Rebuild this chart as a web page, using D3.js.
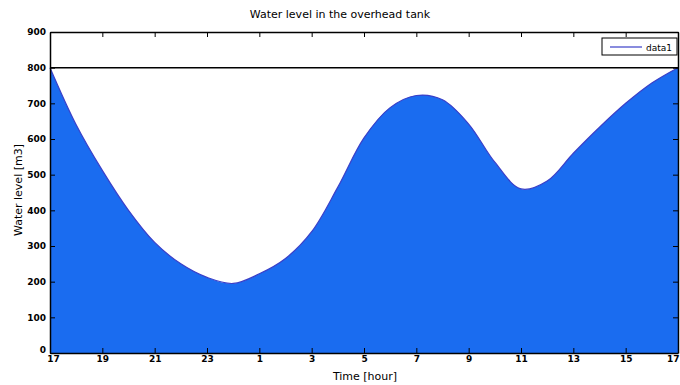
<!DOCTYPE html>
<html>
<head>
<meta charset="utf-8">
<script src="https://cdn.jsdelivr.net/npm/d3@7"></script>
<style>
  body { margin: 0; background: #fff; }
  text { font-family: "DejaVu Sans", sans-serif; fill: #000; }
  .tick text { font-size: 9px; font-weight: bold; }
</style>
</head>
<body>
<div id="chart"></div>
<script>
// data: hours since 17:00, water level in m3
var hours = [0, 1, 2, 3, 4, 5, 6, 7, 8, 9, 10, 11, 12, 13, 14, 15, 16, 17, 18, 19, 20, 21, 22, 23, 24];
var level = [800, 640, 512, 400, 310, 250, 212, 195, 222, 265, 340, 465, 603, 688, 722, 710, 642, 535, 460, 482, 560, 633, 700, 757, 800];
var xTickHours = [0, 2, 4, 6, 8, 10, 12, 14, 16, 18, 20, 22, 24];
var xTickLabels = ["17", "19", "21", "23", "1", "3", "5", "7", "9", "11", "13", "15", "17"];
var yTicks = [0, 100, 200, 300, 400, 500, 600, 700, 800, 900];
var capacity = 800;

var svgWidth = 680;
var svgHeight = 385;
var margin = { top: 32, right: 2, bottom: 32, left: 50 };
var width = svgWidth - margin.left - margin.right;
var height = svgHeight - margin.top - margin.bottom;

var svg = d3.select("#chart")
  .append("svg")
  .attr("width", svgWidth)
  .attr("height", svgHeight);

var chartGroup = svg.append("g")
  .attr("transform", `translate(${margin.left}, ${margin.top})`);

var x = d3.scaleLinear().domain([0, 24]).range([0, width]);
var y = d3.scaleLinear().domain([0, 900]).range([height, 0]);

var data = hours.map((h, i) => ({ h: h, v: level[i] }));

// filled area
var area = d3.area()
  .x(d => x(d.h))
  .y0(y(0))
  .y1(d => y(d.v))
  .curve(d3.curveCatmullRom.alpha(0.5));

chartGroup.append("path")
  .datum(data)
  .attr("d", area)
  .attr("fill", "#1a6cf0");

var line = d3.line()
  .x(d => x(d.h))
  .y(d => y(d.v))
  .curve(d3.curveCatmullRom.alpha(0.5));

chartGroup.append("path")
  .datum(data)
  .attr("d", line)
  .attr("fill", "none")
  .attr("stroke", "#3a3fc8")
  .attr("stroke-width", 1.2);

// capacity line
chartGroup.append("line")
  .attr("x1", 0).attr("x2", width)
  .attr("y1", y(capacity)).attr("y2", y(capacity))
  .attr("stroke", "#000")
  .attr("stroke-width", 1.5);

// axes, ticks pointing inwards like matlab
var bottomAxis = d3.axisBottom(x)
  .tickValues(xTickHours)
  .tickFormat((d, i) => xTickLabels[i])
  .tickSizeInner(-5).tickSizeOuter(0).tickPadding(3);
var topAxis = d3.axisTop(x)
  .tickValues(xTickHours)
  .tickFormat("")
  .tickSizeInner(-5).tickSizeOuter(0);
var leftAxis = d3.axisLeft(y)
  .tickValues(yTicks)
  .tickSizeInner(-5).tickSizeOuter(0).tickPadding(4);
var rightAxis = d3.axisRight(y)
  .tickValues(yTicks)
  .tickFormat("")
  .tickSizeInner(-5).tickSizeOuter(0);

var xAxis = chartGroup.append("g").attr("transform", `translate(0, ${height})`).call(bottomAxis);
chartGroup.append("g").call(topAxis);
var yAxis = chartGroup.append("g").call(leftAxis);
chartGroup.append("g").attr("transform", `translate(${width}, 0)`).call(rightAxis);

chartGroup.selectAll(".domain").attr("stroke", "#000").attr("stroke-width", 1.5);
chartGroup.selectAll(".tick line").attr("stroke", "#000");

// nudge the corner labels so they don't collide / get clipped
yAxis.selectAll(".tick text").filter(d => d === 0).attr("dy", "-0.05em");
xAxis.selectAll(".tick text").filter(d => d === 0).attr("dx", "3px");
xAxis.selectAll(".tick text").filter(d => d === 24).attr("text-anchor", "end").attr("dx", "1px");

// title and axis labels
svg.append("text")
  .attr("x", 340).attr("y", 18)
  .attr("text-anchor", "middle")
  .style("font-size", "11px")
  .text("Water level in the overhead tank");

svg.append("text")
  .attr("x", 365).attr("y", 380)
  .attr("text-anchor", "middle")
  .style("font-size", "11px")
  .text("Time [hour]");

svg.append("text")
  .attr("transform", "rotate(-90)")
  .attr("x", -190).attr("y", 22)
  .attr("text-anchor", "middle")
  .style("font-size", "11px")
  .text("Water level [m3]");

// legend
var legend = svg.append("g").attr("transform", "translate(602, 38)");
legend.append("rect")
  .attr("width", 75).attr("height", 17)
  .attr("fill", "#fff").attr("stroke", "#000").attr("stroke-width", 1);
legend.append("line")
  .attr("x1", 8).attr("x2", 40).attr("y1", 9).attr("y2", 9)
  .attr("stroke", "#3a3fc8").attr("stroke-width", 1.2);
legend.append("text")
  .attr("x", 44).attr("y", 12.5)
  .style("font-size", "9px")
  .text("data1");
</script>
</body>
</html>
